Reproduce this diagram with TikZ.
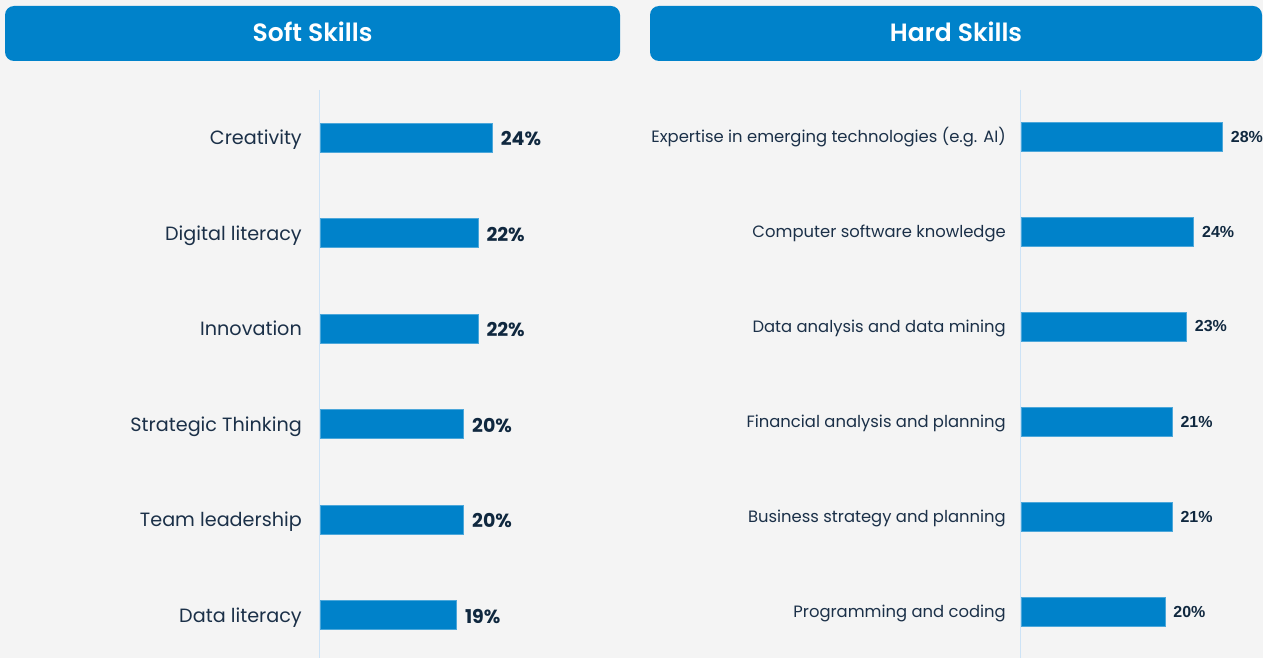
\documentclass[tikz,border=0pt]{standalone}
\usepackage{fontspec}
\setmainfont{Poppins}
\newfontfamily\popsemi{Poppins}[UprightFont=* SemiBold]
\newfontfamily\arialfam{Liberation Sans}
\definecolor{bgc}{HTML}{F4F4F4}
\definecolor{barblue}{HTML}{0082CA}
\definecolor{axisc}{HTML}{CDE3F6}
\definecolor{txtc}{HTML}{1B3048}
\definecolor{pctc}{HTML}{10283F}
\tikzset{
  header/.style={fill=barblue, rounded corners=9pt, draw=none, text=white,
    font=\popsemi\fontsize{25}{29}\selectfont, inner sep=0pt},
  headtext/.style={text=white, font=\popsemi\fontsize{25}{29}\selectfont, inner sep=0pt},
  barbox/.style={fill=barblue, draw=barblue!70!white, line width=0.6pt, anchor=west,
    minimum height=29pt, inner sep=0pt},
  lblL/.style={anchor=base east, text=txtc, font=\fontsize{19.2}{22}\selectfont, inner sep=0pt},
  lblR/.style={anchor=base east, text=txtc, font=\fontsize{16.4}{19}\selectfont, inner sep=0pt},
  pctL/.style={anchor=west, text=pctc, font=\fontsize{19}{22}\selectfont\bfseries, inner sep=0pt},
  pctR/.style={anchor=west, text=pctc, font=\arialfam\fontsize{16}{19}\selectfont\bfseries, inner sep=0pt},
  axisline/.style={draw=axisc, line width=1pt}
}
\begin{document}
\begin{tikzpicture}[x=1pt,y=-1pt]
\fill[bgc] (0,0) rectangle (1263,658);
\useasboundingbox (0,0) rectangle (1263,658);
% headers
\node[header, minimum width=615pt, minimum height=55pt] (hsoft) at (312.5,33.5) {};
\node[headtext] (tsoft) at ([yshift=1.5pt]hsoft.center) {Soft Skills};
\node[header, minimum width=612pt, minimum height=55pt] (hhard) at (956,33.5) {};
\node[headtext] (thard) at ([yshift=1.5pt]hhard.center) {Hard Skills};
% axes
\coordinate (aLt) at (319.5,90);
\coordinate (aLb) at (319.5,658);
\coordinate (aRt) at (1020.5,90);
\coordinate (aRb) at (1020.5,658);
\draw[axisline] (aLt) -- (aLb);
\draw[axisline] (aRt) -- (aRb);
% soft skills
\foreach \i/\t/\v [evaluate=\i as \yy using 137.5+95.5*(\i-1), evaluate=\v as \w using 7.17*\v] in
  {1/Creativity/24, 2/Digital literacy/22, 3/Innovation/22, 4/Strategic Thinking/20, 5/Team leadership/20, 6/Data literacy/19}{
  \node[barbox, minimum width=\w pt] (sb\i) at (320,\yy) {};
  \node[lblL] (sl\i) at ([xshift=-18pt,yshift=-7pt]sb\i.west) {\t};
  \node[pctL] (sp\i) at ([xshift=8pt,yshift=-1.5pt]sb\i.east) {\v\%};
}
% hard skills
\foreach \i/\t/\v [evaluate=\i as \yy using 136.5+95*(\i-1), evaluate=\v as \w using 7.18*\v] in
  {1/Expertise in emerging technologies (e.g. AI)/28, 2/Computer software knowledge/24, 3/Data analysis and data mining/23, 4/Financial analysis and planning/21, 5/Business strategy and planning/21, 6/Programming and coding/20}{
  \node[barbox, minimum width=\w pt] (hb\i) at (1021,\yy) {};
  \node[lblR] (hl\i) at ([xshift=-15pt,yshift=-6pt]hb\i.west) {\t};
  \node[pctR] (hp\i) at ([xshift=8pt]hb\i.east) {\v\%};
}
\end{tikzpicture}
\end{document}
